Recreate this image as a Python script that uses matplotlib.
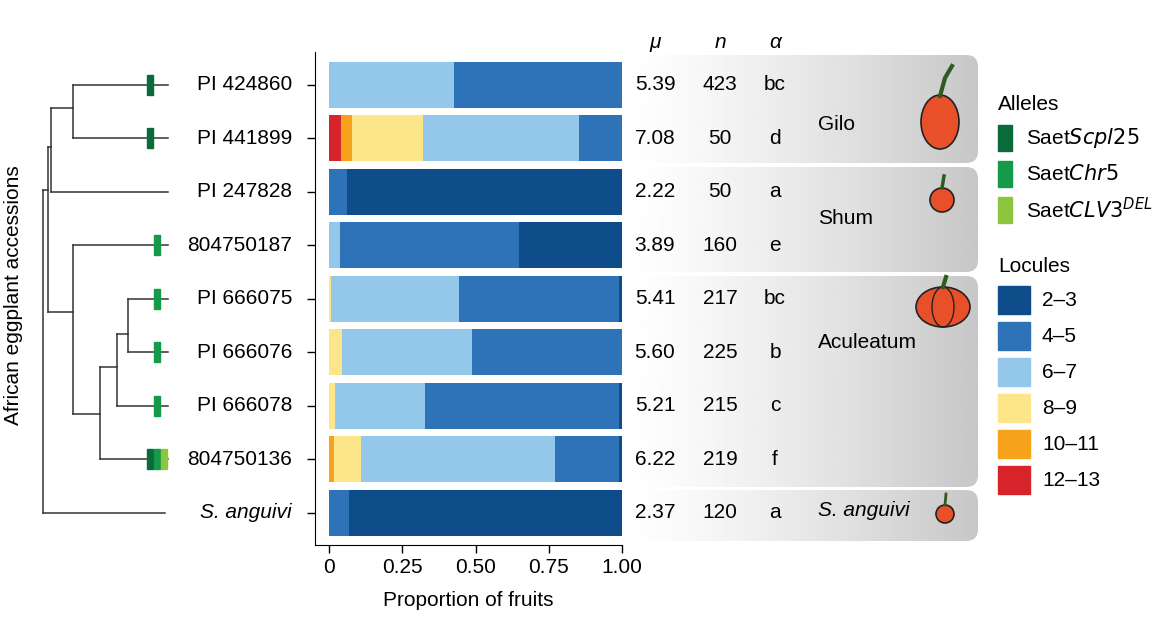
import matplotlib
matplotlib.use("Agg")
import matplotlib.pyplot as plt
import numpy as np
from matplotlib.patches import FancyBboxPatch, Ellipse, Rectangle

plt.rcParams["font.family"] = "Liberation Sans"

accessions = ["PI 424860", "PI 441899", "PI 247828", "804750187", "PI 666075",
              "PI 666076", "PI 666078", "804750136", "S. anguivi"]
classes = ["12–13", "10–11", "8–9", "6–7", "4–5", "2–3"]
colors = ["#d7242a", "#f7a21b", "#fde68a", "#93c8ea", "#2e72b8", "#0f4c8a"]
# proportions per class (ordered left to right: 12-13 ... 2-3)
props = [
    [0.00, 0.00, 0.00, 0.427, 0.573, 0.00],
    [0.04, 0.04, 0.24, 0.533, 0.147, 0.00],
    [0.00, 0.00, 0.00, 0.00, 0.06, 0.94],
    [0.00, 0.00, 0.00, 0.037, 0.613, 0.35],
    [0.00, 0.00, 0.006, 0.438, 0.546, 0.01],
    [0.00, 0.00, 0.044, 0.445, 0.511, 0.00],
    [0.00, 0.00, 0.019, 0.309, 0.662, 0.01],
    [0.00, 0.018, 0.091, 0.662, 0.219, 0.01],
    [0.00, 0.00, 0.00, 0.00, 0.068, 0.932],
]
mu = ["5.39", "7.08", "2.22", "3.89", "5.41", "5.60", "5.21", "6.22", "2.37"]
nvals = ["423", "50", "50", "160", "217", "225", "215", "219", "120"]
alpha = ["bc", "d", "a", "e", "bc", "b", "c", "f", "a"]
groups = ["Gilo", "Shum", "Aculeatum", "S. anguivi"]
allele_names = ["Saet$\\it{Scpl25}$", "Saet$\\it{Chr5}$", "Saet$\\it{CLV3}^{DEL}$"]
allele_colors = ["#0b6a3a", "#159a4a", "#8cc63f"]
# alleles per accession (indices into allele lists)
alleles = [[0], [0], [], [1], [1], [1], [1], [0, 1, 2], []]

fig = plt.figure(figsize=(11.69, 6.26), dpi=100)
ov = fig.add_axes([0, 0, 1, 1], zorder=0)
ov.set_xlim(0, 1169); ov.set_ylim(626, 0); ov.axis("off")

rowy = [84.7 + 53.5 * i for i in range(9)]

# gradient panels
panels = [(55, 163), (167, 272), (276, 487), (490, 541)]
grad = np.linspace(0, 1, 256) ** 1.3
grad = (1 - 0.22 * grad)[None, :]
for (y0, y1) in panels:
    p = FancyBboxPatch((600, y0), 378, y1 - y0, boxstyle="round,pad=0,rounding_size=12",
                       facecolor="none", edgecolor="none")
    ov.add_patch(p)
    im = ov.imshow(grad, cmap="gray", vmin=0, vmax=1, extent=(622, 978, y1, y0),
                   aspect="auto", zorder=0.5)
    im.set_clip_path(p)
ov.set_xlim(0, 1169); ov.set_ylim(626, 0)

# tree
lc = "#333333"; lw = 1.1
def h(x0, x1, y): ov.plot([x0, x1], [y, y], color=lc, lw=lw)
def v(x, y0, y1): ov.plot([x, x], [y0, y1], color=lc, lw=lw)
tipx = 168
v(72.7, rowy[0], rowy[1]); h(72.7, tipx, rowy[0]); h(72.7, tipx, rowy[1])
v(51, 108, rowy[2]); h(51, 72.7, 108); h(51, tipx, rowy[2])
v(128.3, rowy[4], rowy[5]); h(128.3, tipx, rowy[4]); h(128.3, tipx, rowy[5])
v(116.7, 334, rowy[6]); h(116.7, 128.3, 334); h(116.7, tipx, rowy[6])
v(100, 366.7, rowy[7]); h(100, 116.7, 366.7); h(100, tipx, rowy[7])
v(72.7, rowy[3], 414); h(72.7, tipx, rowy[3]); h(72.7, 100, 414)
v(48, 146.7, 311.7); h(48, 51, 146.7); h(48, 72.7, 311.7)
v(42.7, 190, rowy[8]); h(42.7, 48, 190); h(42.7, 165, rowy[8])
allele_x = [150, 157, 164]
for i, al in enumerate(alleles):
    for a in al:
        x = allele_x[a] if len(al) > 1 else (150 if a == 0 else 157)
        ov.add_patch(Rectangle((x - 3, rowy[i] - 10), 6, 20, color=allele_colors[a], zorder=3))
for i, name in enumerate(accessions):
    ov.text(292, rowy[i], name, ha="right", va="center", fontsize=15,
            style="italic" if i == 8 else "normal")
ov.text(14, 295, "African eggplant accessions", rotation=90, ha="center", va="center", fontsize=15)

# stats
for x, t in zip([655, 720, 775], ["μ", "n", "α"]):
    ov.text(x, 42, t, ha="center", va="center", fontsize=15, style="italic")
for i in range(9):
    ov.text(655, rowy[i], mu[i], ha="center", va="center", fontsize=15)
    ov.text(720, rowy[i], nvals[i], ha="center", va="center", fontsize=15)
    ov.text(775, rowy[i], alpha[i], ha="center", va="center", fontsize=15)
for g, y in zip(groups, [124, 219, 342, 510]):
    ov.text(818, y, g, ha="left", va="center", fontsize=15, style="italic" if g == "S. anguivi" else "normal")

# fruit icons
fc = "#e8502a"; ec = "#222222"
ov.add_patch(Ellipse((940, 122), 38, 54, facecolor=fc, edgecolor=ec, lw=1.2, zorder=2))
ov.plot([940, 945, 952], [96, 78, 66], color="#2f5a20", lw=3, zorder=3)
ov.add_patch(Ellipse((942, 200), 24, 24, facecolor=fc, edgecolor=ec, lw=1.2, zorder=2))
ov.plot([942, 944], [188, 176], color="#2f5a20", lw=2.5, zorder=3)
ov.add_patch(Ellipse((943, 307), 54, 40, facecolor=fc, edgecolor=ec, lw=1.2, zorder=2))
ov.add_patch(Ellipse((943, 307), 22, 40, facecolor="none", edgecolor=ec, lw=1, zorder=3))
ov.plot([943, 946], [287, 277], color="#2f5a20", lw=3, zorder=3)
ov.add_patch(Ellipse((945, 514), 18, 18, facecolor=fc, edgecolor=ec, lw=1.2, zorder=2))
ov.plot([945, 946], [505, 494], color="#2f5a20", lw=2, zorder=3)

# legend
ov.text(998, 104, "Alleles", ha="left", va="center", fontsize=15)
for k, (nm, c) in enumerate(zip(allele_names, allele_colors)):
    y = 138 + 36 * k
    ov.add_patch(Rectangle((998, y - 13), 14, 26, color=c))
    ov.text(1026, y, nm, ha="left", va="center", fontsize=15)
ov.text(998, 266, "Locules", ha="left", va="center", fontsize=15)
for k in range(6):
    y = 300 + 36 * k
    c = colors[5 - k]
    ov.add_patch(Rectangle((998, y - 14), 32, 28, color=c))
    ov.text(1042, y, classes[5 - k], ha="left", va="center", fontsize=15)

# bar axes
W, H = 1169, 626
ax = fig.add_axes([315 / W, 1 - 545 / H, (622 - 315) / W, (545 - 52) / H], zorder=2)
ax.patch.set_alpha(0)
left = np.zeros(9)
P = np.array(props)
for j in range(6):
    ax.barh(range(9), P[:, j], left=left, height=0.86, color=colors[j], edgecolor="none")
    left += P[:, j]
ax.set_xlim(-0.048, 1.0)
ax.set_ylim((545 - 84.7) / 53.5, (52 - 84.7) / 53.5)
ax.set_yticks(range(9)); ax.set_yticklabels([])
ax.set_xticks([0, 0.25, 0.5, 0.75, 1.0])
ax.set_xticklabels(["0", "0.25", "0.50", "0.75", "1.00"], fontsize=15)
ax.set_xlabel("Proportion of fruits", fontsize=15, labelpad=10)
for s in ["top", "right"]:
    ax.spines[s].set_visible(False)
ax.tick_params(length=6, width=1)
fig.savefig("out.png", dpi=100)
